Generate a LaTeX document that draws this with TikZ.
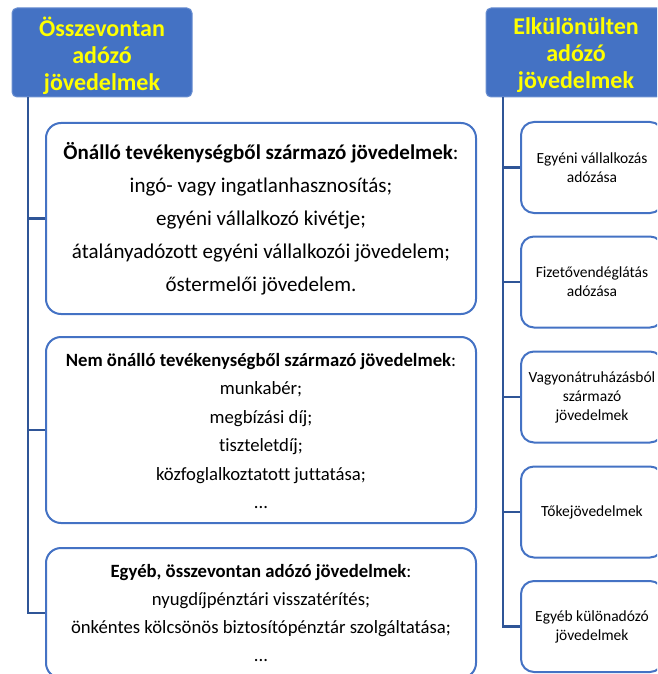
\documentclass[tikz,border=0pt]{standalone}
\usepackage{fontspec}
\setmainfont{Carlito}[Ligatures=NoCommon]
\definecolor{hdrblue}{HTML}{4472C4}
\definecolor{linkblue}{HTML}{2F5597}
\definecolor{hdryellow}{HTML}{FFFF00}
\begin{document}
\begin{tikzpicture}[x=1pt,y=-1pt,
  hdr/.style={draw=hdrblue!80!white, line width=1pt, fill=hdrblue, rounded corners=5pt,
    minimum width=180pt, minimum height=89pt, inner sep=0pt},
  hdrtext/.style={align=center, text=hdryellow, inner sep=0pt,
    font=\fontsize{24}{27}\selectfont\bfseries, yshift=-3pt},
  bigbox/.style={draw=hdrblue, line width=2pt, fill=white, rounded corners=15pt,
    minimum width=430pt, align=center, inner sep=0pt},
  smallbox/.style={draw=hdrblue, line width=2pt, fill=white, rounded corners=13pt,
    minimum width=142pt, minimum height=91pt, align=center, inner sep=0pt,
    font=\fontsize{15.5}{19}\selectfont},
  conn/.style={draw=linkblue, line width=2.7pt}]
\useasboundingbox (0,0) rectangle (657,674);
\clip (0,0) rectangle (657,674);
% headers
\node[hdr, label={[hdrtext]center:Összevontan\\adózó\\jövedelmek}] (hdrL) at (102,52.5) {};
\node[hdr, label={[hdrtext]center:Elkülönülten\\adózó\\jövedelmek}] (hdrR) at (576,52.5) {};
% left boxes
\node[bigbox, minimum height=191pt, font=\fontsize{21}{33}\selectfont] (b1) at (261,218.5)
  {\textbf{Önálló tevékenységből származó jövedelmek}:\\ingó- vagy ingatlanhasznosítás;\\egyéni vállalkozó kivétje;\\átalányadózott egyéni vállalkozói jövedelem;\\őstermelői jövedelem.};
\node[bigbox, minimum height=186pt] (b2) at (261,430) {};
\node[font=\fontsize{18.7}{28.4}\selectfont, align=center, inner sep=0pt] (b2t) at (261,431)
  {\textbf{Nem önálló tevékenységből származó jövedelmek}:\\munkabér;\\megbízási díj;\\tiszteletdíj;\\közfoglalkoztatott juttatása;\\...};
\node[bigbox, minimum height=130pt] (b3) at (261,613) {};
\node[font=\fontsize{18.7}{28}\selectfont, align=center, inner sep=0pt] (b3t) at (261,613)
  {\textbf{Egyéb, összevontan adózó jövedelmek}:\\nyugdíjpénztári visszatérítés;\\önkéntes kölcsönös biztosítópénztár szolgáltatása;\\...};
% right boxes
\node[smallbox] (r1) at (592,167.5) {Egyéni vállalkozás\\adózása};
\node[smallbox] (r2) at (592,282) {Fizetővendéglátás\\adózása};
\node[smallbox] (r3) at (592,397) {Vagyonátruházásból\\származó\\jövedelmek};
\node[smallbox] (r4) at (592,512) {Tőkejövedelmek};
\node[smallbox] (r5) at (592,626.5) {Egyéb különadózó\\jövedelmek};
% connectors
\coordinate (tL) at (28,97);
\coordinate (tR) at (503,97);
\draw[conn] (tL) |- (b3.west);
\draw[conn] (tL |- b1.west) -- (b1.west);
\draw[conn] (tL |- b2.west) -- (b2.west);
\draw[conn] (tR) |- (r5.west);
\draw[conn] (tR |- r1.west) -- (r1.west);
\draw[conn] (tR |- r2.west) -- (r2.west);
\draw[conn] (tR |- r3.west) -- (r3.west);
\draw[conn] (tR |- r4.west) -- (r4.west);
\end{tikzpicture}
\end{document}
